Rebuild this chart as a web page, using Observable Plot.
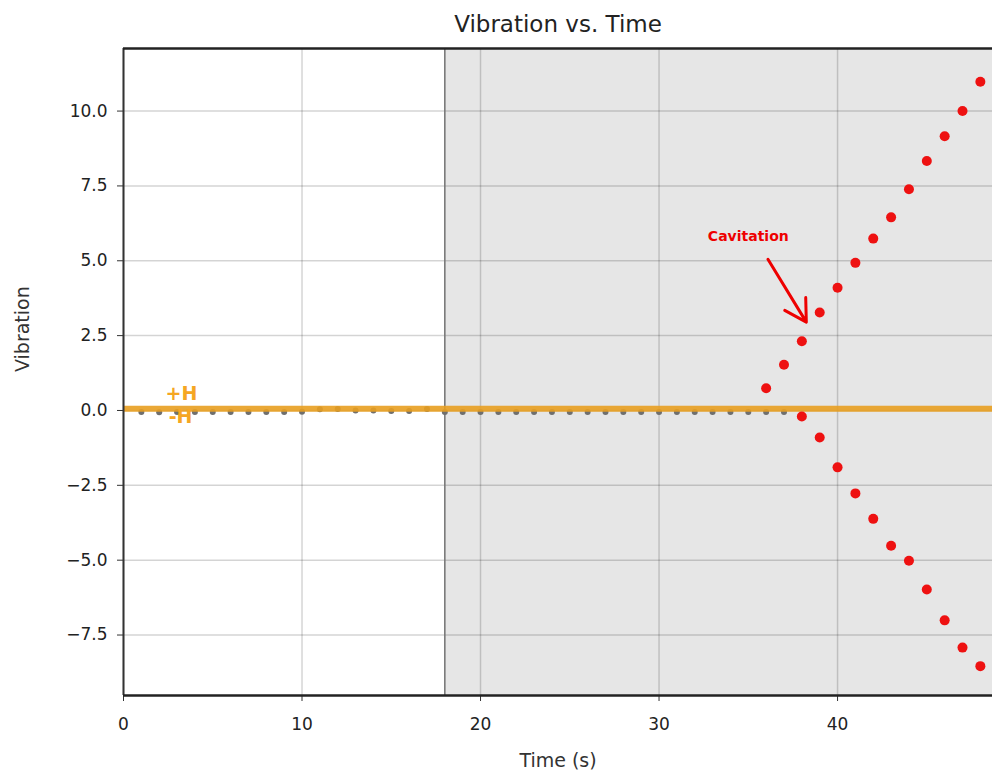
<!DOCTYPE html>
<html><head><meta charset="utf-8">
<script src="https://cdn.jsdelivr.net/npm/d3@7"></script>
<script src="https://cdn.jsdelivr.net/npm/@observablehq/plot@0.6"></script>
<style>body{margin:0;background:#fff;font-family:"DejaVu Sans",sans-serif}</style>
</head><body><div id="chart"></div>
<script>
// Baseline (gray) readings
const baseTime = [1,2,3,4,5,6,7,8,9,10,11,12,13,14,15,16,17,18,19,20,21,22,23,24,25,26,27,28,29,30,31,32,33,34,35,36,37];
const baseVib  = [-0.05,-0.06,-0.05,-0.05,-0.05,-0.05,-0.05,-0.05,-0.05,-0.04,0.04,0.05,0.0,0.0,-0.02,-0.02,0.05,-0.05,-0.05,-0.05,-0.05,-0.05,-0.05,-0.05,-0.05,-0.05,-0.05,-0.05,-0.05,-0.05,-0.05,-0.05,-0.05,-0.05,-0.05,-0.05,-0.05];
// Cavitation branches (red)
const upTime = [36,37,38,39,40,41,42,43,44,45,46,47,48];
const upVib  = [0.74,1.53,2.31,3.27,4.1,4.93,5.74,6.45,7.39,8.33,9.16,10.0,10.98];
const lowTime = [38,39,40,41,42,43,44,45,46,47,48];
const lowVib  = [-0.2,-0.9,-1.9,-2.77,-3.62,-4.52,-5.02,-5.98,-7.01,-7.92,-8.54];
// Reference values
const hLevel = 0.06;
const shadeStart = 18;
const xDomain = [0, 48.68];
const yDomain = [-9.52, 12.09];
const xTicks = [0,10,20,30,40];
const yTicks = [-7.5,-5,-2.5,0,2.5,5,7.5,10];
const labels = [{x:3.25,y:0.55,t:"+H"},{x:3.2,y:-0.2,t:"-H"}];
const note = {x:35.0, y:5.8, t:"Cavitation", ax1:36.1, ay1:5.05, ax2:38.25, ay2:2.95};

const base = baseTime.map((t,i)=>({t, v:baseVib[i]}));
const up = upTime.map((t,i)=>({t, v:upVib[i]}));
const low = lowTime.map((t,i)=>({t, v:lowVib[i]}));
const fmt = d => (d<0?"\u2212":"") + Math.abs(d).toFixed(1);

const chart = Plot.plot({
  width: 992, height: 776,
  marginLeft: 123, marginRight: 0, marginTop: 48, marginBottom: 81,
  style: {fontFamily:"DejaVu Sans, sans-serif", fontSize:"17px", color:"#222", background:"#fff"},
  x: {domain: xDomain, label: null},
  y: {domain: yDomain, label: null},
  marks: [
    Plot.rect([shadeStart], {x1: d=>d, x2: xDomain[1], y1: yDomain[0], y2: yDomain[1], fill:"#e6e6e6"}),
    Plot.ruleX(xTicks, {stroke:"#000", strokeOpacity:0.17, strokeWidth:1.5}),
    Plot.ruleY(yTicks, {stroke:"#000", strokeOpacity:0.17, strokeWidth:1.5}),
    Plot.ruleX([shadeStart], {stroke:"#7a7a7a", strokeWidth:1.6}),
    Plot.axisX({ticks: xTicks, tickFormat: d=>String(d), tickSize:6, tickPadding:16, fontSize:17, stroke:"#333", label:null}),
    Plot.axisY({ticks: yTicks, tickFormat: fmt, tickSize:6, tickPadding:10, fontSize:17, stroke:"#333", label:null}),
    Plot.text(["Time (s)"], {frameAnchor:"bottom", dy:71, fontSize:19, fill:"#333"}),
    Plot.text(["Vibration"], {frameAnchor:"left", dx:-101, rotate:-90, fontSize:19, fill:"#333"}),
    Plot.text(["Vibration vs. Time"], {frameAnchor:"top", dy:-24, fontSize:23, fill:"#222"}),
    Plot.dot(base, {x:"t", y:"v", r:3, fill:"#6f6f6f"}),
    Plot.ruleY([hLevel], {stroke:"#e89e20", strokeWidth:6, strokeOpacity:0.9}),
    Plot.dot(up, {x:"t", y:"v", r:5, fill:"#ee1111"}),
    Plot.dot(low, {x:"t", y:"v", r:5, fill:"#ee1111"}),
    Plot.text(labels, {x:"x", y:"y", text:"t", fill:"#f5a623", fontWeight:"bold", fontSize:19}),
    Plot.text([note], {x:"x", y:"y", text:"t", fill:"#ee0000", fontWeight:"bold", fontSize:14}),
    Plot.arrow([note], {x1:"ax1", y1:"ay1", x2:"ax2", y2:"ay2", stroke:"#ee0000", strokeWidth:3, headLength:14, bend:0}),
    Plot.ruleX([xDomain[0]], {stroke:"#333", strokeWidth:2}),
    Plot.ruleY([yDomain[0]], {stroke:"#222", strokeWidth:2.5}),
    Plot.ruleY([yDomain[1]], {stroke:"#222", strokeWidth:2.5})
  ]
});
// shift the title up to match the reference placement
chart.querySelectorAll("text").forEach(t => { if (t.textContent === "Vibration vs. Time") t.setAttribute("transform", (t.getAttribute("transform")||"") + " translate(0,-9)"); });
document.getElementById("chart").appendChild(chart);
</script></body></html>
